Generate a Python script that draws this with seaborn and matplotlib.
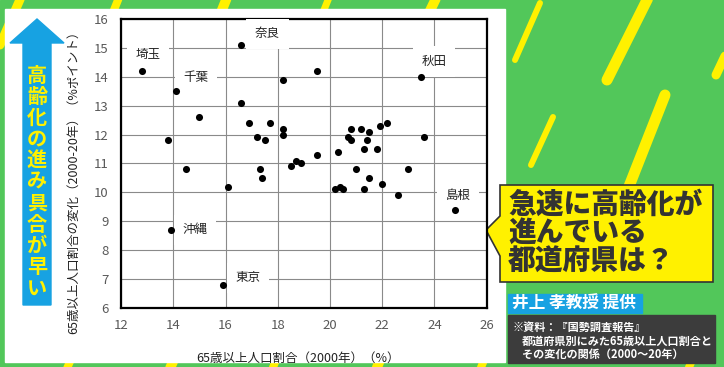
import matplotlib
matplotlib.use("Agg")
import matplotlib.pyplot as plt
from matplotlib.patches import Rectangle, Polygon
import seaborn as sns

# 都道府県別: 65歳以上人口割合(2000年) と 変化(2000-20年)
ratio_2000 = [12.8, 14.1, 15.0, 13.8, 14.5, 16.6, 16.6, 18.2, 16.9, 17.7,
              18.2, 18.2, 17.2, 17.5, 18.5, 18.7, 18.9, 17.3, 17.4, 16.1,
              13.9, 15.9, 19.5, 23.5, 23.6, 22.2, 21.9, 20.8, 21.2, 21.5,
              20.7, 20.8, 21.4, 21.3, 21.8, 20.3, 19.5, 21.0, 23.0, 21.5,
              22.0, 20.2, 20.4, 20.5, 21.3, 22.6, 24.8]
change = [14.2, 13.5, 12.6, 11.8, 10.8, 15.1, 13.1, 13.9, 12.4, 12.4,
          12.2, 12.0, 11.9, 11.8, 10.9, 11.1, 11.0, 10.8, 10.5, 10.2,
          8.7, 6.8, 14.2, 14.0, 11.9, 12.4, 12.3, 12.2, 12.2, 12.1,
          11.9, 11.8, 11.8, 11.5, 11.5, 11.4, 11.3, 10.8, 10.8, 10.5,
          10.3, 10.1, 10.2, 10.1, 10.1, 9.9, 9.4]

# 名前付きの点 (index, 名前, ラベルのずれ[pt])
labels = [(0, "埼玉", (4.5, 12)), (1, "千葉", (14.5, 9.5)), (5, "奈良", (19, 8)),
          (23, "秋田", (9, 11)), (20, "沖縄", (17.5, 0)), (21, "東京", (18, 5)),
          (46, "島根", (2, 10.5))]

x_ticks = list(range(12, 27, 2))
y_ticks = list(range(6, 17))

sns.set_theme(style="white")
plt.rcParams["font.family"] = ["Noto Sans CJK JP", "DejaVu Sans"]

GREEN = "#52C75A"
YELLOW = "#FFF100"
BLUE = "#17A2E2"

fig = plt.figure(figsize=(7.24, 3.67), dpi=100)

# 背景(ピクセル座標)
bg = fig.add_axes([0, 0, 1, 1])
bg.set_xlim(0, 724)
bg.set_ylim(367, 0)
bg.axis("off")
bg.add_patch(Rectangle((0, 0), 724, 367, color=GREEN, zorder=0))

stripes = [
    (540, 3, 515, 60, 6), (652, -10, 607, 80, 11), (735, 35, 716, 75, 9),
    (553, 117, 531, 165, 6), (665, 95, 600, 260, 11), (700, 340, 684, 380, 8),
    (22, -5, 0, 45, 9), (122, -10, 112, 15, 8), (230, -10, 220, 15, 10),
    (332, -10, 322, 15, 7), (440, -10, 428, 15, 10),
    (75, 350, 62, 380, 8), (178, 350, 165, 380, 10), (280, 350, 268, 380, 8),
    (384, 350, 372, 380, 10), (488, 350, 476, 380, 8),
]
for x1, y1, x2, y2, w in stripes:
    bg.plot([x1, x2], [y1, y2], color=YELLOW, lw=w * 0.72,
            solid_capstyle="round", zorder=1)

bg.add_patch(Rectangle((5, 9), 500, 353, color="white", zorder=2))

# 矢印
bg.add_patch(Polygon([(23, 305), (23, 43), (10, 43), (37, 19), (64, 43),
                      (51, 43), (51, 305)], closed=True, color=BLUE, zorder=3))
arrow_text = "高齢化の進み具合が早い"
for i, ch in enumerate(arrow_text):
    bg.text(37, 75 + i * 21.3, ch, color=YELLOW, fontsize=14.5,
            fontweight="bold", ha="center", va="center", zorder=4)

# 吹き出し
bg.add_patch(Polygon([(500, 185), (713, 185), (713, 282), (500, 282),
                      (500, 256), (486, 230), (500, 216)], closed=True,
                     fc=YELLOW, ec="#333333", lw=1.2, zorder=3))
for i, line in enumerate(["急速に高齢化が", "進んでいる", "都道府県は？"]):
    bg.text(508, 205 + i * 28, line, color="#333333", fontsize=20,
            fontweight="heavy", ha="left", va="center", zorder=4)

bg.add_patch(Rectangle((508, 294), 134, 19, color=BLUE, zorder=3))
bg.text(512, 303.5, "井上 孝教授 提供", color="white", fontsize=12,
        fontweight="bold", ha="left", va="center", zorder=4)

bg.add_patch(Rectangle((508, 315), 207, 48, color="#3C3C3C", zorder=3))
bg.text(512, 327, "※資料：『国勢調査報告』", color="white", fontsize=8,
        fontweight="bold", ha="left", va="center", zorder=4)
bg.text(522, 341, "都道府県別にみた65歳以上人口割合と", color="white",
        fontsize=8, fontweight="bold", ha="left", va="center", zorder=4)
bg.text(522, 354, "その変化の関係（2000～20年）", color="white", fontsize=8,
        fontweight="bold", ha="left", va="center", zorder=4)

# 散布図
ax = fig.add_axes([121.1 / 724, 1 - 307.9 / 367, 365.6 / 724, 289 / 367])
sns.scatterplot(x=ratio_2000, y=change, ax=ax, color="black", s=26,
                linewidth=0, zorder=4)
ax.set_xlim(12, 26)
ax.set_ylim(6, 16)
ax.set_xticks(x_ticks)
ax.set_yticks(y_ticks)
ax.grid(True, color="#8A8A8A", lw=0.8)
ax.set_axisbelow(True)
for s in ax.spines.values():
    s.set_color("black")
    s.set_linewidth(1.6)
ax.tick_params(axis="both", length=0, labelsize=9.5, labelcolor="#595959")
ax.tick_params(axis="x", pad=8)
ax.tick_params(axis="y", pad=9)

for idx, name, off in labels:
    ax.annotate(name, (ratio_2000[idx], change[idx]), xytext=off,
                textcoords="offset points", ha="center", va="center",
                fontsize=9, color="#222222", zorder=3,
                bbox=dict(boxstyle="square,pad=0.7", fc="white", ec="none"))

ax.set_xlabel("65歳以上人口割合（2000年）（%）", fontsize=9, color="#222222")
ax.set_ylabel("65歳以上人口割合の変化（2000-20年）（%ポイント）", fontsize=9,
              color="#222222")
ax.xaxis.set_label_coords(0.4825, -0.153)
ax.yaxis.set_label_coords(-0.112, 0.446)

fig.savefig("out.png", dpi=100)
